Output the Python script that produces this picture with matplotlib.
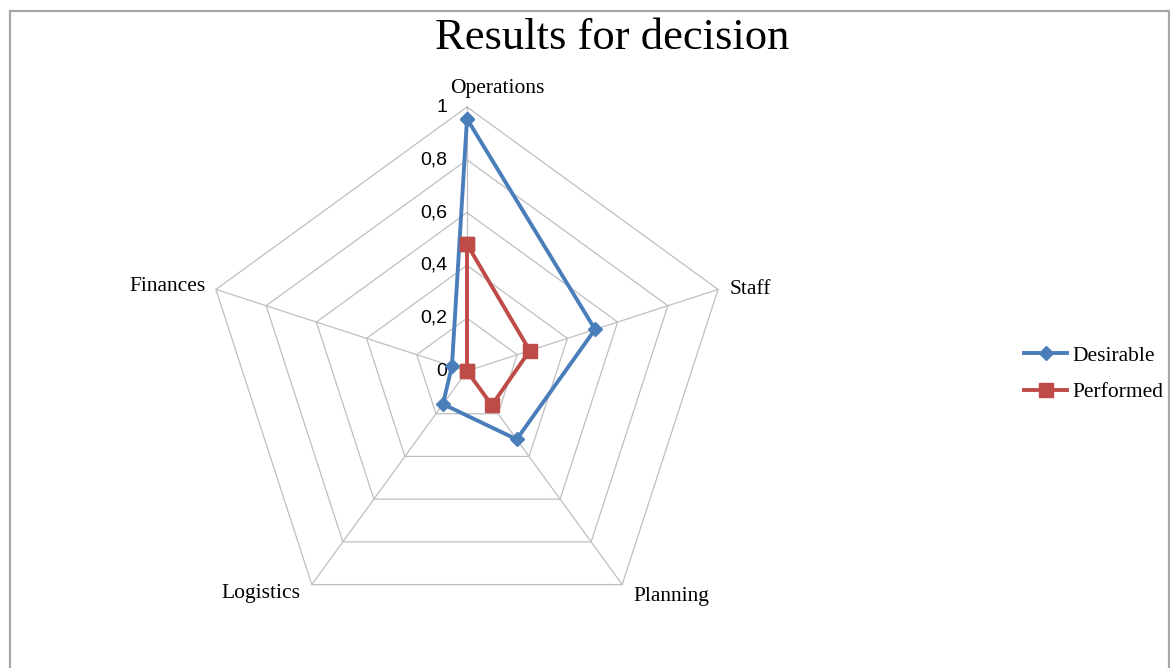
import numpy as np
import matplotlib
matplotlib.use("Agg")
import matplotlib.pyplot as plt
from matplotlib.patches import Rectangle

categories = ["Operations", "Staff", "Planning", "Logistics", "Finances"]
desirable = [0.955, 0.51, 0.32, 0.155, 0.06]
performed = [0.48, 0.25, 0.16, 0.0, 0.0]
tick_values = [0, 0.2, 0.4, 0.6, 0.8, 1.0]
tick_labels = ["0", "0,2", "0,4", "0,6", "0,8", "1"]
title = "Results for decision"

SERIF = ["Liberation Serif", "DejaVu Serif"]
SANS = ["Liberation Sans", "DejaVu Sans"]
BLUE = "#4A7EBB"
RED = "#BE4B48"
GRID = "#BFBFBF"

W, H = 1170, 668
fig = plt.figure(figsize=(W / 100, H / 100), dpi=100)

# outer frame
fig.patches.append(Rectangle((9.5 / W, -0.05), (1168.5 - 9.5) / W, (H - 10.5) / H + 0.05,
                             transform=fig.transFigure, fill=False,
                             edgecolor="#A6A6A6", linewidth=1.6, zorder=0))

cx, cy, R = 467, 371, 264
ax = fig.add_axes([(cx - R) / W, (H - cy - R) / H, 2 * R / W, 2 * R / H], projection="polar")
ax.set_theta_offset(np.pi / 2)
ax.set_theta_direction(-1)
ax.set_ylim(0, 1)
ax.grid(False)
ax.spines["polar"].set_visible(False)
ax.set_xticks([])
ax.set_yticks([])
ax.patch.set_alpha(0)

n = len(categories)
angles = np.linspace(0, 2 * np.pi, n, endpoint=False)
closed = np.concatenate([angles, angles[:1]])

# pentagonal grid
for r in tick_values[1:]:
    ax.plot(closed, [r] * (n + 1), color=GRID, lw=0.9, zorder=1, clip_on=False)
for a in angles:
    ax.plot([a, a], [0, 1], color=GRID, lw=0.9, zorder=1, clip_on=False)

# tick labels
for v, lab in zip(tick_values, tick_labels):
    ax.annotate(lab, xy=(0, v), xytext=(-20, 0), textcoords="offset pixels",
                ha="right", va="center", fontsize=14, family=SANS, color="#000000")

# category labels
offsets = [((30, 18), "center", "center"),
           ((12, 0), "left", "center"),
           ((11, -12), "left", "center"),
           ((-11, -9), "right", "center"),
           ((-10, 3), "right", "center")]
for a, cat, (off, ha, va) in zip(angles, categories, offsets):
    ax.annotate(cat, xy=(a, 1), xytext=off, textcoords="offset pixels",
                ha=ha, va=va, fontsize=15.5, family=SERIF, annotation_clip=False)

d = np.concatenate([desirable, desirable[:1]])
p = np.concatenate([performed, performed[:1]])
ax.plot(closed, d, color=BLUE, lw=2.8, marker="D", ms=7.5, label="Desirable", zorder=3, clip_on=False)
ax.plot(closed, p, color=RED, lw=2.8, marker="s", ms=9.5, label="Performed", zorder=4, clip_on=False)

fig.text(612 / W, 1 - 38 / H, title, ha="center", va="center", fontsize=32, family=SERIF)

fig.legend(loc="center left", bbox_to_anchor=(1024 / W, 1 - 374 / H), frameon=False,
           prop={"family": SERIF, "size": 15.5}, handlelength=2.0, handletextpad=0.25,
           labelspacing=0.75, borderaxespad=0, borderpad=0)

fig.savefig("out.png", dpi=100)
